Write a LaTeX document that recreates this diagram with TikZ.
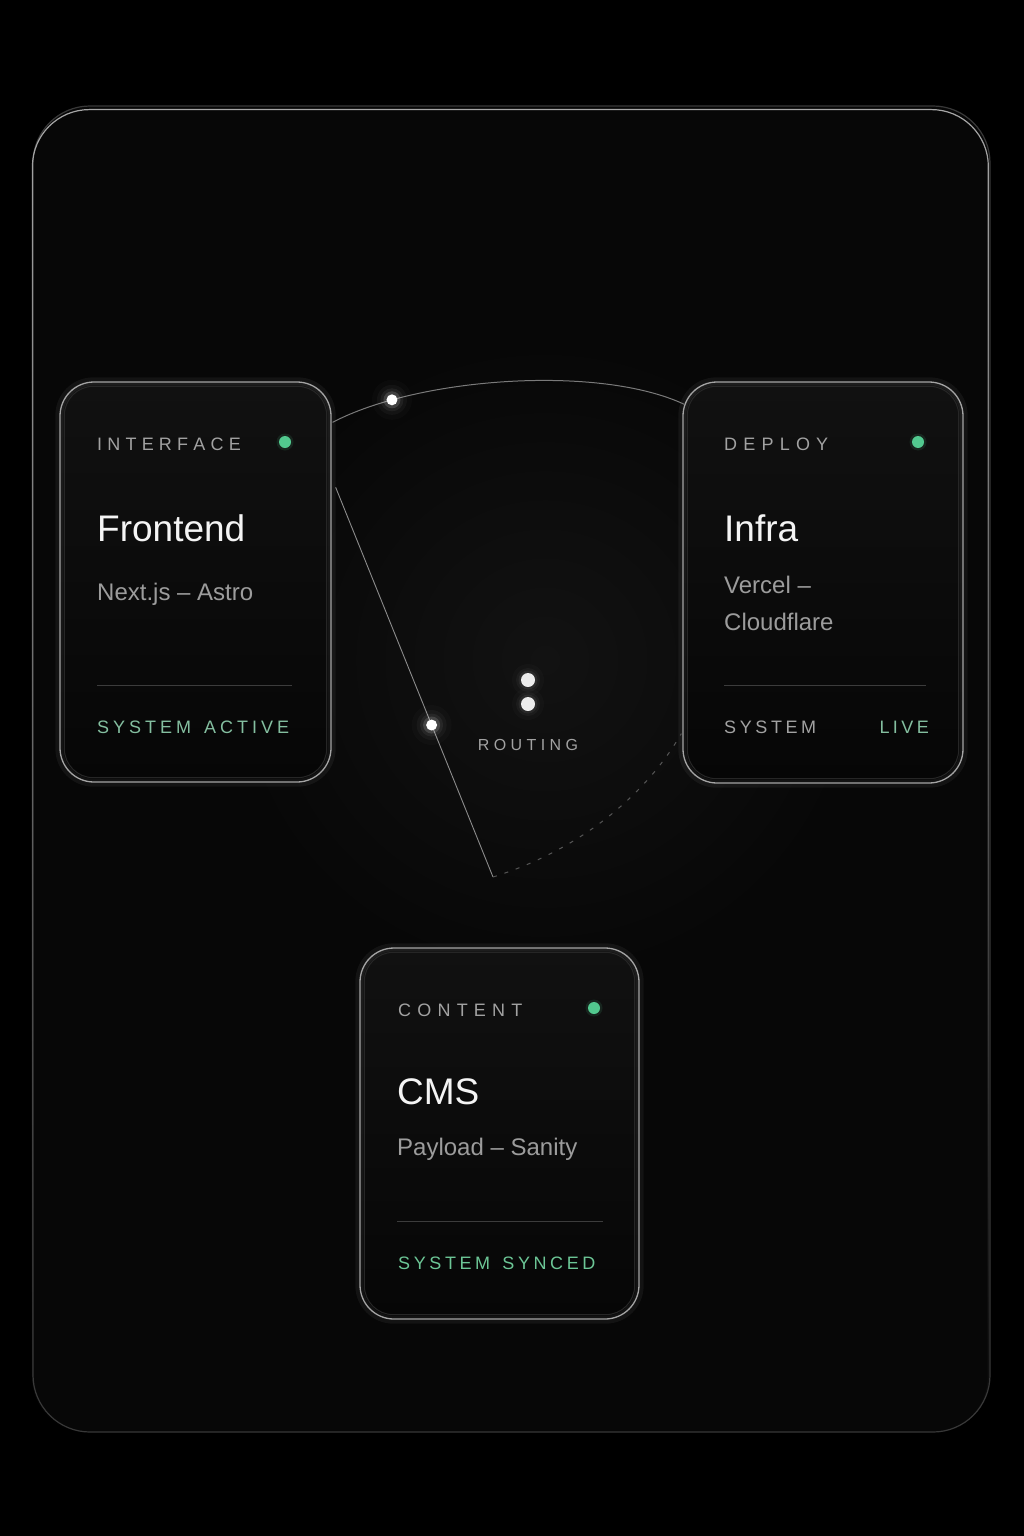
\documentclass[tikz,border=0pt]{standalone}
\usepackage{fontspec}
\setmainfont{Liberation Sans}
\usetikzlibrary{calc,fadings}
\definecolor{framebg}{HTML}{070707}
\definecolor{glowc}{HTML}{121212}
\definecolor{framec}{HTML}{383838}
\definecolor{frametop}{HTML}{A8A8A8}
\definecolor{cardtop}{HTML}{111111}
\definecolor{cardbot}{HTML}{060606}
\definecolor{cardedge}{HTML}{A0A0A0}
\definecolor{cardrim}{HTML}{262626}
\definecolor{labgray}{HTML}{A2A2A2}
\definecolor{subgray}{HTML}{9C9C9C}
\definecolor{titlec}{HTML}{F4F4F4}
\definecolor{okgreen}{HTML}{84BFA0}
\definecolor{okgreen2}{HTML}{6CC696}
\definecolor{dotgreen}{HTML}{52C98F}
\definecolor{divc}{HTML}{3C3C3C}
\definecolor{linec}{HTML}{8C8C8C}
\definecolor{arcc}{HTML}{7A7A7A}
\definecolor{dashc}{HTML}{555555}
\pgfdeclareradialshading{glowshade}{\pgfpoint{0bp}{0bp}}{color(0bp)=(glowc); color(25bp)=(framebg); color(50bp)=(framebg)}
\newcommand\trk[2]{\def\trksep{#1}\trkloop#2\relax}
\def\trkloop#1{\ifx#1\relax\unskip\else#1\hspace{\trksep}\expandafter\trkloop\fi}
\begin{document}
\begin{tikzpicture}[x=1pt,y=-1pt,
  card/.style={draw=cardedge, line width=1.3pt, rounded corners=34pt, top color=cardtop, bottom color=cardbot, inner sep=0pt},
  lab/.style={text=labgray, font=\fontsize{18pt}{22pt}\selectfont, inner sep=0pt, anchor=base west},
  ttl/.style={text=titlec, font=\fontsize{37pt}{44pt}\selectfont, inner sep=0pt, anchor=base west},
  sub/.style={text=subgray, font=\fontsize{24pt}{30pt}\selectfont, inner sep=0pt, anchor=base west},
  gdot/.style={circle, fill=dotgreen, inner sep=0pt, minimum size=12pt},
  wdot/.style={circle, fill=white, inner sep=0pt, minimum size=11pt},
  rdot/.style={circle, fill=white!92!black, inner sep=0pt, minimum size=14pt},
  divider/.style={draw=divc, line width=0.8pt}]
% background and frame
\fill[black] (0,0) rectangle (1024,1536);
\fill[framebg, rounded corners=57pt] (33,106) rectangle (990,1432);
\shade[shading=glowshade] (545,660) circle (320pt);
\draw[framec, line width=1.2pt, rounded corners=57pt] (33,106) rectangle (990,1432);
\draw[frametop, line width=1.2pt, rounded corners=57pt, path fading=south] (33,106) rectangle (990,1432);
% cards
\node[card, minimum width=271pt, minimum height=400pt] (fe) at (195.5,582) {};
\node[card, minimum width=280pt, minimum height=401pt] (in) at (823,582.5) {};
\node[card, minimum width=279pt, minimum height=371pt] (cm) at (499.5,1133.5) {};
\foreach \n in {fe,in,cm}{
  \draw[white, opacity=0.05, line width=8pt, rounded corners=34pt] (\n.north west) rectangle (\n.south east);
  \draw[cardrim, line width=1pt, rounded corners=29pt] ($(\n.north west)+(5,5)$) rectangle ($(\n.south east)+(-5,-5)$);
}
% Frontend
\node[lab] (fe-k) at (97,450.5) {\trk{5.2pt}{INTERFACE}};
\node[gdot] (fe-d) at (285,442) {};
\node[ttl] (fe-t) at (97,541.7) {Frontend};
\node[sub] (fe-s) at (97,600) {Next.js – Astro};
\draw[divider] (97,685) -- (292,685);
\node[lab, text=okgreen] (fe-f) at (97,733) {\trk{4pt}{SYSTEM~ACTIVE}};
% Infra
\node[lab] (in-k) at (724,450.5) {\trk{6.2pt}{DEPLOY}};
\node[gdot] (in-d) at (918,442) {};
\node[ttl] (in-t) at (724,541.7) {Infra};
\node[sub] (in-s1) at (724,593) {Vercel –};
\node[sub] (in-s2) at (724,630) {Cloudflare};
\draw[divider] (724,685) -- (926,685);
\node[lab] (in-f1) at (724,733) {\trk{3.6pt}{SYSTEM}};
\node[lab, text=okgreen, anchor=base east] (in-f2) at (929,733) {\trk{3.4pt}{LIVE}};
% CMS
\node[lab] (cm-k) at (398,1016) {\trk{6.2pt}{CONTENT}};
\node[gdot] (cm-d) at (594,1008) {};
\node[ttl] (cm-t) at (397,1104) {CMS};
\node[sub] (cm-s) at (397,1155) {Payload – Sanity};
\draw[divider] (397,1221) -- (603,1221);
\node[lab, text=okgreen2] (cm-f) at (398,1269) {\trk{3.6pt}{SYSTEM~SYNCED}};
\foreach \n in {fe-d,in-d,cm-d}{\fill[dotgreen, opacity=0.12] (\n) circle (8.5pt);}
% routing hub
\node[rdot] (r1) at (528,680) {};
\node[rdot] (r2) at (528,704) {};
\node[lab, anchor=base, font=\fontsize{16pt}{20pt}\selectfont] (rt) at (528,750) {\trk{4.4pt}{ROUTING}};
% connectors
\coordinate (a0) at ($(fe.north east)+(1,41)$);
\coordinate (a1) at ($(in.north west)+(2,23)$);
\draw[arcc, line width=1pt] (a0) .. controls +(85,-45) and +(-85,-40) .. (a1) node[pos=0.195, wdot] (g1) {};
\coordinate (b0) at ($(fe.north east)+(4,106)$);
\coordinate (b1) at (493,877);
\draw[linec, line width=0.9pt] (b0) -- (b1) node[pos=0.61, wdot] (g2) {};
\coordinate (c1) at ($(in.south west)+(-1,-50)$);
\draw[dashc, line width=1pt, dash pattern=on 4pt off 8pt] (b1) .. controls +(80,-25) and +(-40,68) .. (c1);
\foreach \n in {g1,g2}{
  \foreach \r/\o in {20/0.02,15/0.035,11.5/0.06,8.5/0.14}{\fill[white, opacity=\o] (\n) circle (\r pt);}
}
\foreach \n in {r1,r2}{
  \foreach \r/\o in {16/0.02,12/0.035,9.5/0.06}{\fill[white, opacity=\o] (\n) circle (\r pt);}
}
\end{tikzpicture}
\end{document}
